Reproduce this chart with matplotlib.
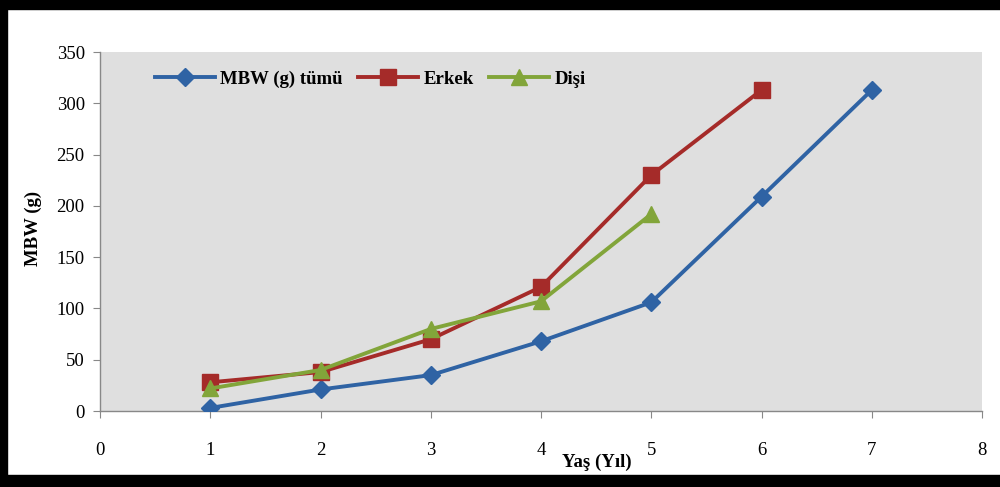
import matplotlib
matplotlib.use("Agg")
import matplotlib.pyplot as plt
from matplotlib.patches import Rectangle

plt.rcParams['font.family'] = ['Liberation Serif', 'DejaVu Serif']

ages_all = [1, 2, 3, 4, 5, 6, 7]
mbw_all = [3, 21, 35, 68, 106, 209, 313]

ages_male = [1, 2, 3, 4, 5, 6]
mbw_male = [28, 38, 70, 121, 230, 313]

ages_female = [1, 2, 3, 4, 5]
mbw_female = [22, 40, 80, 107, 192]

fig = plt.figure(figsize=(10, 4.87), dpi=100)
ax = fig.add_axes([0.100, 0.156, 0.882, 0.737])
ax.set_facecolor('#dfdfdf')

ax.plot(ages_all, mbw_all, color='#2f63a4', lw=2.8, marker='D', ms=9.5,
        label='MBW (g) tümü', zorder=3)
ax.plot(ages_male, mbw_male, color='#a52b29', lw=2.8, marker='s', ms=11,
        label='Erkek', zorder=4)
ax.plot(ages_female, mbw_female, color='#82a53a', lw=2.8, marker='^', ms=12,
        label='Dişi', zorder=5)

ax.set_xlim(0, 8)
ax.set_ylim(0, 350)
ax.set_xticks(range(0, 9))
ax.set_yticks(range(0, 351, 50))

for s in ['top', 'right']:
    ax.spines[s].set_visible(False)
for s in ['left', 'bottom']:
    ax.spines[s].set_color('#888888')
    ax.spines[s].set_linewidth(1)
ax.tick_params(axis='both', colors='#888888', labelcolor='black',
               labelsize=13.5, length=5)
ax.tick_params(axis='x', pad=17)
ax.tick_params(axis='y', pad=6)

fig.text(0.597, 0.051, 'Yaş (Yıl)', ha='center', va='center',
         fontsize=13.5, fontweight='bold')
fig.text(0.033, 0.53, 'MBW (g)', ha='center', va='center', rotation=90,
         fontsize=13.5, fontweight='bold')

ax.legend(loc='upper left', bbox_to_anchor=(0.043, 0.995), ncol=3,
          frameon=False, handlelength=3.2, handletextpad=0.3,
          columnspacing=0.8, prop={'weight': 'bold', 'size': 13.5})

# black frame (top, left, bottom)
fig.patches.append(Rectangle((0, 1 - 9 / 487), 1, 9 / 487, transform=fig.transFigure,
                             color='black', zorder=10))
fig.patches.append(Rectangle((0, 0), 7 / 1000, 1, transform=fig.transFigure,
                             color='black', zorder=10))
fig.patches.append(Rectangle((0, 0), 1, 12 / 487, transform=fig.transFigure,
                             color='black', zorder=10))

fig.savefig('out.png', dpi=100, facecolor='white')
